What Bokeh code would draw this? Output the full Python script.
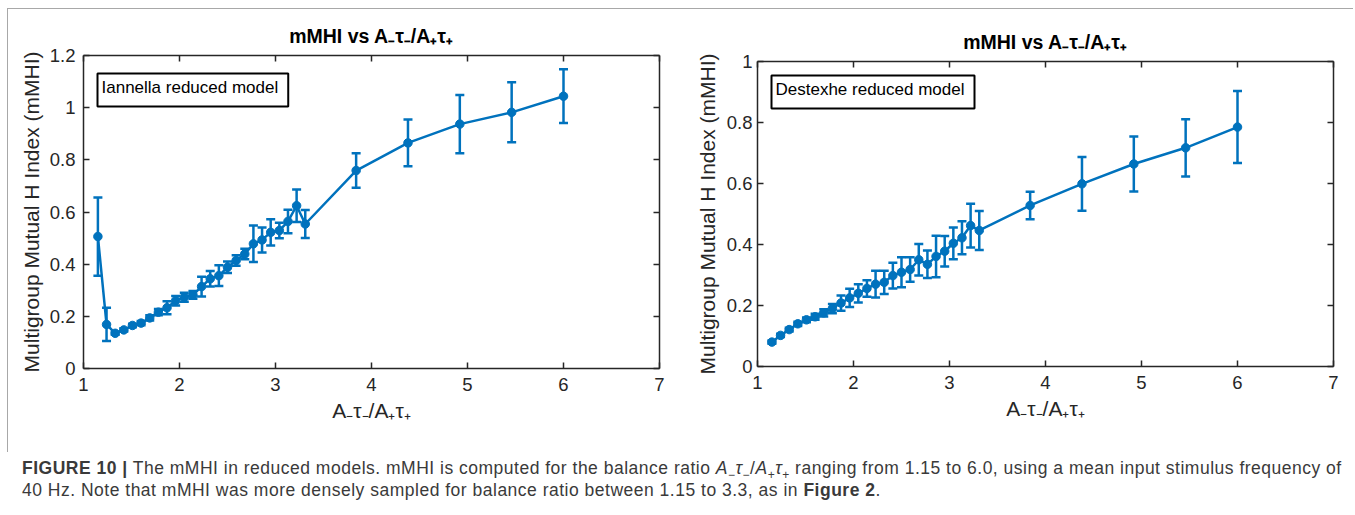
from bokeh.plotting import figure
from bokeh.models import (ColumnDataSource, Whisker, TeeHead, LinearAxis, FixedTicker,
                          CustomJSTickFormatter, Label, Range1d, Div)
from bokeh.layouts import row, column
from bokeh.embed import file_html
from bokeh.resources import INLINE

# ---------------- data ----------------
ratio = [1.15, 1.24, 1.33, 1.42, 1.51, 1.60, 1.69, 1.78, 1.87, 1.96,
         2.05, 2.14, 2.23, 2.32, 2.41, 2.50, 2.59, 2.68, 2.77, 2.86,
         2.95, 3.04, 3.13, 3.22, 3.31, 3.84, 4.38, 4.92, 5.46, 6.00]

iannella_mhi = [0.506, 0.169, 0.135, 0.148, 0.165, 0.174, 0.194, 0.216, 0.233, 0.260,
                0.273, 0.282, 0.314, 0.344, 0.356, 0.388, 0.414, 0.439, 0.478, 0.493,
                0.522, 0.529, 0.564, 0.624, 0.554, 0.759, 0.865, 0.937, 0.982, 1.044]
iannella_err = [0.150, 0.064, 0.006, 0.006, 0.007, 0.008, 0.010, 0.012, 0.025, 0.018,
                0.017, 0.015, 0.038, 0.030, 0.040, 0.022, 0.020, 0.020, 0.070, 0.048,
                0.050, 0.030, 0.045, 0.062, 0.054, 0.066, 0.090, 0.112, 0.115, 0.103]

destexhe_mhi = [0.080, 0.102, 0.121, 0.140, 0.153, 0.163, 0.176, 0.190, 0.208, 0.225,
                0.240, 0.256, 0.270, 0.276, 0.298, 0.309, 0.318, 0.350, 0.335, 0.361,
                0.378, 0.404, 0.422, 0.462, 0.446, 0.528, 0.599, 0.664, 0.717, 0.785]
destexhe_err = [0.005, 0.005, 0.006, 0.007, 0.008, 0.010, 0.012, 0.015, 0.025, 0.030,
                0.030, 0.027, 0.044, 0.038, 0.042, 0.049, 0.040, 0.052, 0.045, 0.068,
                0.050, 0.052, 0.054, 0.072, 0.064, 0.045, 0.088, 0.090, 0.094, 0.118]

x_ticks = [1, 2, 3, 4, 5, 6, 7]
left_y_ticks = [0, 0.2, 0.4, 0.6, 0.8, 1.0, 1.2]
right_y_ticks = [0, 0.2, 0.4, 0.6, 0.8, 1.0]

title_text = "mMHI vs A\u208b\u03c4\u208b/A\u208a\u03c4\u208a"
x_label = "A\u208b\u03c4\u208b/A\u208a\u03c4\u208a"
y_label = "Multigroup Mutual H Index (mMHI)"
legend_left = "Iannella reduced model"
legend_right = "Destexhe reduced model"

BLUE = "#0072BD"
AX = "#262626"
FONT = "Liberation Sans"
H = 443
FRAME_GREY = "#a8a8a8"


def style_axis(ax, show_labels):
    ax.axis_line_color = AX
    ax.axis_line_width = 1.5
    ax.major_tick_in = 6
    ax.major_tick_out = 0
    ax.major_tick_line_color = AX
    ax.major_tick_line_width = 1.5
    ax.minor_tick_line_color = None
    ax.major_label_text_font = FONT
    ax.major_label_text_font_size = "18.5px"
    ax.major_label_text_color = AX
    if not show_labels:
        ax.formatter = CustomJSTickFormatter(code="return ''")
        ax.major_label_standoff = 0


def make_panel(y, err, ymax, yticks, legend, width, bl, br, bt, bb, legend_y,
               ylab_standoff, ytick_standoff):
    p = figure(width=width, height=H, x_range=Range1d(1, 7), y_range=Range1d(0, ymax),
               output_backend="svg", toolbar_location=None, frame_align=False,
               min_border_left=bl, min_border_right=br, min_border_top=bt, min_border_bottom=bb)
    p.grid.visible = False
    p.outline_line_color = None
    p.background_fill_color = "white"
    p.border_fill_color = "white"

    p.title.text = title_text
    p.title.align = "center"
    p.title.text_font = FONT
    p.title.text_font_size = "19.5px"
    p.title.text_font_style = "bold"
    p.title.text_color = "black"
    p.title.standoff = 18

    p.add_layout(LinearAxis(), "above")
    p.add_layout(LinearAxis(), "right")

    for ax in p.xaxis:
        ax.ticker = FixedTicker(ticks=x_ticks)
    for ax in p.yaxis:
        ax.ticker = FixedTicker(ticks=yticks)

    bx, ly = p.below[0], p.left[0]
    style_axis(bx, True)
    style_axis(ly, True)
    style_axis(p.above[-1], False)
    style_axis(p.right[0], False)
    bx.formatter = CustomJSTickFormatter(code="return tick.toFixed(0)")
    ly.formatter = CustomJSTickFormatter(code="return (Math.round(tick*10)/10).toString()")
    bx.major_label_standoff = 9
    ly.major_label_standoff = ytick_standoff

    bx.axis_label = x_label
    ly.axis_label = y_label
    for ax in (bx, ly):
        ax.axis_label_text_font = FONT
        ax.axis_label_text_font_size = "21px"
        ax.axis_label_text_font_style = "normal"
        ax.axis_label_text_color = AX
    bx.axis_label_standoff = 5
    ly.axis_label_standoff = ylab_standoff

    src = ColumnDataSource(dict(ratio=ratio, mhi=y,
                                upper=[a + b for a, b in zip(y, err)],
                                lower=[a - b for a, b in zip(y, err)]))
    p.line("ratio", "mhi", source=src, line_color=BLUE, line_width=2.5)
    p.add_layout(Whisker(source=src, base="ratio", upper="upper", lower="lower",
                         line_color=BLUE, line_width=2.5,
                         upper_head=TeeHead(size=9, line_color=BLUE, line_width=2.5),
                         lower_head=TeeHead(size=9, line_color=BLUE, line_width=2.5)))
    p.scatter("ratio", "mhi", source=src, size=8.5, fill_color=BLUE, line_color=BLUE)

    p.add_layout(Label(x=14, y=legend_y, x_units="screen", y_units="screen",
                       text=legend, anchor="top_left",
                       text_font=FONT, text_font_size="17px", text_color="black",
                       background_fill_color="white",
                       border_line_color="black", border_line_width=2,
                       padding=(4, 10, 4, 10)))
    return p


# left fig: x 8..691, right fig: x 691..1347
left = make_panel(iannella_mhi, iannella_err, 1.2, left_y_ticks, legend_left,
                  683, 75, 32, 46, 84, 295, 4, 8)
right = make_panel(destexhe_mhi, destexhe_err, 1.0, right_y_ticks, legend_right,
                   656, 66, 14, 52, 86, 291, 5, 5)

top_line = Div(text="", width=1346, height=1, margin=(8, 0, 0, 7),
               styles={"background-color": FRAME_GREY})
left_line = Div(text="", width=1, height=H, margin=(0, 0, 0, 7),
                styles={"background-color": FRAME_GREY})
panels = row(left_line, left, right)

caption_html = (
    "<div style=\"font-family:'Liberation Sans',Arial,sans-serif;font-size:17.5px;"
    "letter-spacing:0.5px;line-height:22px;color:#3a3a3a;white-space:nowrap;"
    "padding:5px 0 0 22px;\">"
    "<b>FIGURE 10 |</b> The mMHI in reduced models. mMHI is computed for the balance ratio "
    "<i>A</i><sub style='font-size:12px;line-height:0'>\u2212</sub><i>\u03c4</i>"
    "<sub style='font-size:12px;line-height:0'>\u2212</sub>/<i>A</i>"
    "<sub style='font-size:12px;line-height:0'>+</sub><i>\u03c4</i>"
    "<sub style='font-size:12px;line-height:0'>+</sub> ranging from 1.15 to 6.0, "
    "using a mean input stimulus frequency of<br>"
    "40 Hz. Note that mMHI was more densely sampled for balance ratio between 1.15 to 3.3, "
    "as in <b>Figure 2</b>.</div>"
)
caption = Div(text=caption_html, width=1346, height=60, margin=(0, 0, 0, 0))

layout = column(top_line, panels, caption)
open("out.html", "w").write(file_html(layout, INLINE))
